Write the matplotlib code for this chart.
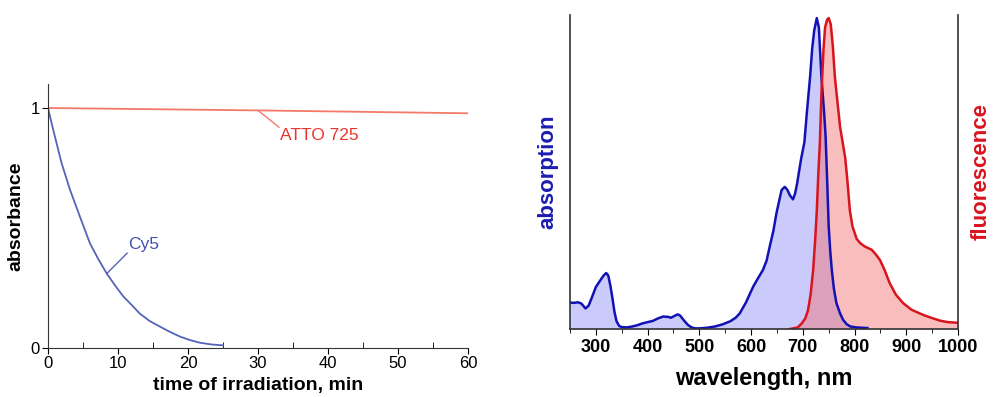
import matplotlib.pyplot as plt
from matplotlib.ticker import MultipleLocator

plt.rcParams['font.family'] = ['Liberation Sans', 'DejaVu Sans']

# photostability: absorbance vs time of irradiation (min)
cy5_t = [0, 0.76, 1.95, 3.14, 4.57, 6, 7.2, 8.4, 9.6, 10.76, 12, 13.1, 14.5, 16,
         17.5, 18.9, 20.3, 21.7, 23.3, 25]
cy5_a = [1.0, 0.908, 0.77, 0.66, 0.547, 0.436, 0.37, 0.31, 0.26, 0.215, 0.178, 0.144, 0.113, 0.089,
         0.066, 0.047, 0.033, 0.022, 0.015, 0.011]
atto_t = [0, 30, 60]
atto_a = [1.0, 0.99, 0.978]

# spectra (normalised)
abs_wl = [250, 258, 265, 272, 280, 286, 292, 300, 308, 315, 320, 324, 328, 332, 336, 340, 345,
          350, 360, 370, 380, 390, 400, 410, 420, 430, 440, 445, 452, 458, 463, 470, 478, 485,
          492, 500, 515, 530, 545, 560, 570, 578, 590, 604, 614, 623, 630, 636, 643, 649, 654,
          659, 665, 670, 675, 681, 685, 689, 693, 697, 703, 708, 714, 718, 722, 727, 731, 736,
          741, 744, 747, 750, 753, 756, 760, 765, 772, 778, 785, 792, 804, 825]
abs_val = [0.085, 0.084, 0.086, 0.082, 0.066, 0.075, 0.1, 0.135, 0.155, 0.172, 0.18, 0.172, 0.14, 0.1, 0.055, 0.025, 0.01,
           0.006, 0.005, 0.008, 0.012, 0.018, 0.022, 0.026, 0.034, 0.04, 0.039, 0.036, 0.042, 0.047, 0.043, 0.028, 0.013, 0.005,
           0.002, 0.002, 0.004, 0.008, 0.015, 0.025, 0.036, 0.05, 0.085, 0.136, 0.165, 0.19, 0.22, 0.265, 0.315, 0.372, 0.41,
           0.447, 0.457, 0.448, 0.43, 0.417, 0.435, 0.468, 0.51, 0.55, 0.6, 0.7, 0.81, 0.9, 0.96, 1.0, 0.97, 0.81,
           0.7, 0.62, 0.48, 0.33, 0.25, 0.19, 0.13, 0.083, 0.05, 0.029, 0.015, 0.008, 0.005, 0.003]
fl_wl = [675, 690, 698, 705, 710, 715, 720, 724, 727, 730, 733, 736, 740, 743, 747, 750, 754, 758,
         762, 767, 772, 777, 782, 786, 791, 796, 804, 811, 820, 833, 841, 849, 858, 868, 880, 894,
         910, 933, 950, 965, 980, 1000]
fl_val = [0.0, 0.005, 0.018, 0.035, 0.06, 0.11, 0.19, 0.29, 0.38, 0.5, 0.6, 0.76, 0.9, 0.97, 0.995, 1.0, 0.98, 0.91,
          0.81, 0.73, 0.65, 0.6, 0.55, 0.48, 0.38, 0.33, 0.29, 0.276, 0.265, 0.255, 0.24, 0.222, 0.19, 0.147, 0.11, 0.083,
          0.062, 0.045, 0.035, 0.027, 0.022, 0.02]

fig = plt.figure(figsize=(9.93, 3.97), dpi=100)

# left panel
ax1 = fig.add_axes([0.0483, 0.1234, 0.423, 0.665])
ax1.plot(atto_t, atto_a, color='#f27a6a', lw=1.3)
ax1.plot(cy5_t, cy5_a, color='#5563b8', lw=1.3)
ax1.plot([30, 33.0], [0.99, 0.92], color='#f27a6a', lw=1)
ax1.text(33.1, 0.885, 'ATTO 725', color='#e8352b', fontsize=12.5, va='center', ha='left')
ax1.plot([8.4, 11.3], [0.31, 0.395], color='#5563b8', lw=1)
ax1.text(11.5, 0.43, 'Cy5', color='#4550b0', fontsize=12.5, va='center', ha='left')

ax1.set_xlim(0, 60)
ax1.set_ylim(0, 1.1)
ax1.set_xticks([0, 10, 20, 30, 40, 50, 60])
ax1.xaxis.set_minor_locator(MultipleLocator(5))
ax1.set_yticks([0, 1])
ax1.spines['top'].set_visible(False)
ax1.spines['right'].set_visible(False)
for s in ['left', 'bottom']:
    ax1.spines[s].set_color('#333333')
ax1.tick_params(axis='x', which='major', direction='out', length=4, labelsize=12, pad=2)
ax1.tick_params(axis='x', which='minor', direction='in', length=4)
ax1.tick_params(axis='y', direction='out', length=4, labelsize=12, pad=2)
ax1.set_xlabel('time of irradiation, min', fontsize=14, fontweight='bold', labelpad=4)
ax1.set_ylabel('absorbance', fontsize=14, fontweight='bold', labelpad=4)

# right panel
ax2 = fig.add_axes([0.574, 0.1713, 0.3908, 0.791])
ax2.fill_between(abs_wl, abs_val, color='#7b7bf5', alpha=0.4, lw=0)
ax2.fill_between(fl_wl, fl_val, color='#f26e6e', alpha=0.45, lw=0)
ax2.plot(abs_wl, abs_val, color='#1212b4', lw=1.8)
ax2.plot(fl_wl, fl_val, color='#d8141e', lw=1.8)

ax2.set_xlim(250, 1000)
ax2.set_ylim(0, 1.01)
ax2.set_xticks([300, 400, 500, 600, 700, 800, 900, 1000])
ax2.xaxis.set_minor_locator(MultipleLocator(50))
ax2.set_yticks([])
ax2.spines['top'].set_visible(False)
for s in ['left', 'right', 'bottom']:
    ax2.spines[s].set_color('#333333')
    ax2.spines[s].set_linewidth(1.2)
ax2.tick_params(axis='x', which='major', direction='out', length=4, labelsize=13, pad=3)
ax2.tick_params(axis='x', which='minor', direction='out', length=3)
for lab in ax2.get_xticklabels():
    lab.set_fontweight('bold')
ax2.set_xlabel('wavelength, nm', fontsize=17, fontweight='bold', labelpad=8)
ax2.set_ylabel('absorption', fontsize=16, fontweight='bold', color='#1c1cb0', labelpad=8)
ax2.text(1.06, 0.5, 'fluorescence', transform=ax2.transAxes, rotation=90,
         fontsize=16, fontweight='bold', color='#d8141e', ha='center', va='center')

fig.savefig('out.png', dpi=100)
